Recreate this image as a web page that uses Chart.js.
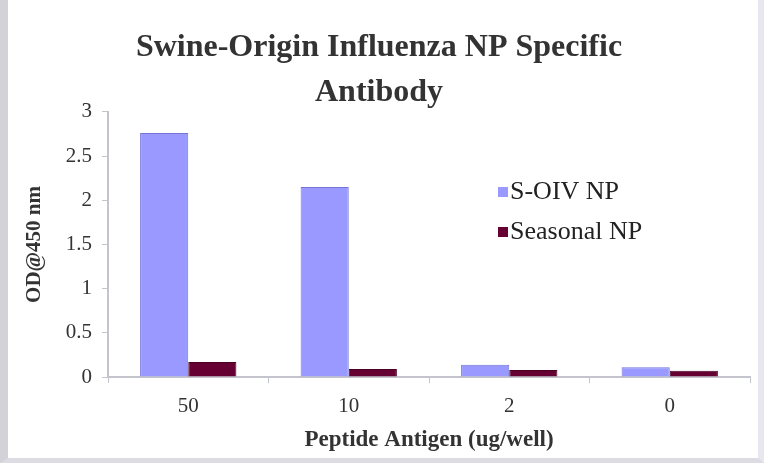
<!DOCTYPE html>
<html>
<head>
<meta charset="utf-8">
<script src="https://cdn.jsdelivr.net/npm/chart.js@4.4.1/dist/chart.umd.min.js"></script>
<style>
  html, body { margin: 0; padding: 0; background: #fff; }
  #frame {
    box-sizing: border-box;
    width: 764px; height: 463px;
    border-left: 8px solid #d2d2d8;
    border-right: 6px solid #e8e6ee;
    border-bottom: 5px solid #dcdce2;
    background: #fff;
  }
  #wrap { position: relative; width: 750px; height: 458px; }
</style>
</head>
<body>
<div id="frame"><div id="wrap"><canvas id="odChart"></canvas></div></div>
<script>
const categories = ['50', '10', '2', '0'];
const soivValues = [2.76, 2.15, 0.14, 0.11];
const seasonalValues = [0.17, 0.09, 0.08, 0.07];
const yTicks = [0, 0.5, 1, 1.5, 2, 2.5, 3];

const serif = "'Liberation Serif', 'Times New Roman', serif";
const axisGray = '#c4c4cc';

// leyenda dibujada dentro del area del grafico
const legendInside = {
    id: 'legendInside',
    afterDraw(chart) {
        const ctx = chart.ctx;
        ctx.save();
        ctx.font = '26px ' + serif;
        ctx.textBaseline = 'middle';
        ctx.textAlign = 'left';
        chart.data.datasets.forEach((ds, i) => {
            const y = 192 + i * 40;
            ctx.fillStyle = ds.backgroundColor;
            ctx.fillRect(490, y - 5, 10, 10);
            ctx.fillStyle = '#222';
            ctx.fillText(ds.label, 502, y);
        });
        ctx.restore();
    }
};

new Chart(document.getElementById('odChart'), {
    type: 'bar',
    data: {
        labels: categories,
        datasets: [{
            label: 'S-OIV NP',
            data: soivValues,
            backgroundColor: '#9999ff',
            borderColor: '#7474d8',
            borderWidth: 1
        }, {
            label: 'Seasonal NP',
            data: seasonalValues,
            backgroundColor: '#660033',
            borderColor: '#4a0024',
            borderWidth: 1
        }]
    },
    options: {
        responsive: true,
        maintainAspectRatio: false,
        animation: false,
        layout: { padding: { left: 0, right: 8, top: 0, bottom: 0 } },
        datasets: { bar: { categoryPercentage: 0.6, barPercentage: 1.0 } },
        plugins: {
            legend: { display: false },
            tooltip: { enabled: false },
            title: {
                display: true,
                text: ['Swine-Origin Influenza NP Specific', 'Antibody'],
                color: '#333',
                font: { family: serif, size: 32, weight: 'bold', lineHeight: 1.42 },
                padding: { top: 25, bottom: -4 }
            }
        },
        scales: {
            x: {
                grid: { display: true, drawOnChartArea: false, drawTicks: true, tickLength: 6, color: axisGray, offset: true },
                border: { display: true, color: axisGray, width: 2 },
                ticks: { color: '#333', font: { family: serif, size: 21 }, padding: 11 },
                title: {
                    display: true,
                    text: 'Peptide Antigen (ug/well)',
                    color: '#333',
                    font: { family: serif, size: 23, weight: 'bold' },
                    padding: { top: 0, bottom: 4 }
                },
                afterFit(scale) { scale.height = 81; }
            },
            y: {
                min: 0,
                max: 3,
                afterBuildTicks(scale) { scale.ticks = yTicks.map(v => ({ value: v })); },
                grid: { display: true, drawOnChartArea: false, drawTicks: true, tickLength: 6, color: axisGray },
                border: { display: true, color: axisGray, width: 2 },
                ticks: {
                    color: '#333',
                    font: { family: serif, size: 21 },
                    padding: 10,
                    callback: v => String(v)
                },
                title: {
                    display: true,
                    text: 'OD@450 nm',
                    color: '#333',
                    font: { family: serif, size: 21, weight: 'bold' },
                    padding: { top: 14, bottom: 0 }
                },
                afterFit(scale) { scale.width = 100; }
            }
        }
    },
    plugins: [legendInside]
});
</script>
</body>
</html>
